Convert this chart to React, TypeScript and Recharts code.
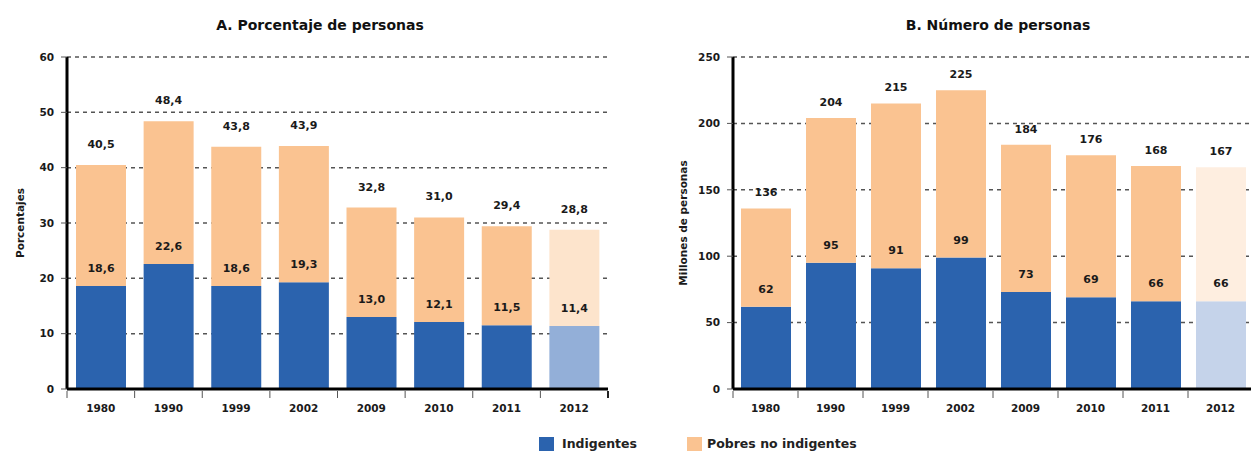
import React from "react";
import { BarChart, Bar, XAxis, YAxis, CartesianGrid, LabelList, Cell } from "recharts";

const years = ["1980", "1990", "1999", "2002", "2009", "2010", "2011", "2012"];
const pctIndigentes = [18.6, 22.6, 18.6, 19.3, 13.0, 12.1, 11.5, 11.4];
const pctPobres = [40.5, 48.4, 43.8, 43.9, 32.8, 31.0, 29.4, 28.8];
const numIndigentes = [62, 95, 91, 99, 73, 69, 66, 66];
const numPobres = [136, 204, 215, 225, 184, 176, 168, 167];
const ticksA = [0, 10, 20, 30, 40, 50, 60];
const ticksB = [0, 50, 100, 150, 200, 250];

const FONT = "'DejaVu Sans', Verdana, sans-serif";
const BLUE = "#2B63AE";
const ORANGE = "#FAC391";

const buildRows = (ind: number[], tot: number[]) =>
  years.map((y, i) => ({ year: y, ind: ind[i], resto: +(tot[i] - ind[i]).toFixed(1), total: tot[i] }));

const dataA = buildRows(pctIndigentes, pctPobres);
const dataB = buildRows(numIndigentes, numPobres);

const comma = (v: any) => Number(v).toFixed(1).replace(".", ",");

const makeXTick = (catW: number, count: number) => (props: any) => {
  const { x, y, payload, index } = props;
  return (
    <g>
      <line x1={x - catW / 2} x2={x - catW / 2} y1={y - 6} y2={y + 1} stroke="#555" strokeWidth={1} />
      {index === count - 1 && (
        <line x1={x + catW / 2} x2={x + catW / 2} y1={y - 6} y2={y + 1} stroke="#222" strokeWidth={2} />
      )}
      <text x={x} y={y + 15} textAnchor="middle" fontFamily={FONT} fontWeight="bold" fontSize={10.5} fill="#1a1a1a">
        {payload.value}
      </text>
    </g>
  );
};

type PanelProps = {
  data: any[];
  left: number;
  width: number;
  marginLeft: number;
  marginRight: number;
  ticks: number[];
  yLabel: string;
  yLabelX: number;
  catW: number;
  light: [string, string];
  fmt?: (v: any) => string;
  topOffset: number;
  innerOffset: number;
};

function Panel(p: PanelProps) {
  const fmt = p.fmt || ((v: any) => String(v));
  const labelStyle = { fontFamily: FONT, fontWeight: "bold", fontSize: 11, fill: "#1a1a1a" };
  return (
    <div style={{ position: "absolute", left: p.left, top: 0 }}>
      <BarChart
        width={p.width}
        height={420}
        data={p.data}
        margin={{ top: 57, right: p.marginRight, left: p.marginLeft, bottom: 6 }}
      >
        <CartesianGrid vertical={false} stroke="#555" strokeDasharray="4 4" strokeWidth={1.5} />
        <XAxis
          dataKey="year"
          height={25}
          axisLine={{ stroke: "#000", strokeWidth: 3 }}
          tickLine={false}
          interval={0}
          tick={makeXTick(p.catW, p.data.length)}
        />
        <YAxis
          width={40}
          domain={[0, p.ticks[p.ticks.length - 1]]}
          ticks={p.ticks}
          interval={0}
          axisLine={{ stroke: "#000", strokeWidth: 3 }}
          tickLine={{ stroke: "#555" }}
          tickSize={6}
          tickMargin={7}
          tick={{ fontFamily: FONT, fontWeight: "bold", fontSize: 10.5, fill: "#1a1a1a" }}
          label={{
            content: () => (
              <text
                x={p.yLabelX}
                y={223}
                transform={`rotate(-90, ${p.yLabelX}, 223)`}
                textAnchor="middle"
                dominantBaseline="central"
                fontFamily={FONT}
                fontWeight="bold"
                fontSize={10.5}
                fill="#1a1a1a"
              >
                {p.yLabel}
              </text>
            ),
          }}
        />
        <Bar dataKey="ind" stackId="a" barSize={50} isAnimationActive={false}>
          {p.data.map((d, i) => (
            <Cell key={`i-${i}`} fill={i === p.data.length - 1 ? p.light[0] : BLUE} />
          ))}
          <LabelList dataKey="ind" position="top" offset={p.innerOffset} formatter={fmt} style={labelStyle} />
        </Bar>
        <Bar dataKey="resto" stackId="a" barSize={50} isAnimationActive={false}>
          {p.data.map((d, i) => (
            <Cell key={`r-${i}`} fill={i === p.data.length - 1 ? p.light[1] : ORANGE} />
          ))}
          <LabelList dataKey="total" position="top" offset={p.topOffset} formatter={fmt} style={labelStyle} />
        </Bar>
      </BarChart>
    </div>
  );
}

const titleStyle: React.CSSProperties = {
  position: "absolute",
  top: 16,
  width: 400,
  textAlign: "center",
  fontFamily: FONT,
  fontWeight: "bold",
  fontSize: 14,
  lineHeight: "18px",
  color: "#111",
};

const legendText: React.CSSProperties = {
  position: "absolute",
  top: 436,
  fontFamily: FONT,
  fontWeight: "bold",
  fontSize: 12.5,
  lineHeight: "15px",
  color: "#222",
};

export default function App() {
  return (
    <div style={{ position: "fixed", left: 0, top: 0, width: 1251, height: 451, overflow: "hidden", background: "#fff" }}>
      <div style={{ ...titleStyle, left: 120 }}>A. Porcentaje de personas</div>
      <div style={{ ...titleStyle, left: 798 }}>B. Número de personas</div>
      <Panel
        data={dataA}
        left={0}
        width={620}
        marginLeft={27}
        marginRight={12}
        ticks={ticksA}
        yLabel="Porcentajes"
        yLabelX={20}
        catW={541 / 8}
        light={["#93AFD8", "#FDE4CC"]}
        fmt={comma}
        topOffset={17}
        innerOffset={14}
      />
      <Panel
        data={dataB}
        left={640}
        width={640}
        marginLeft={53}
        marginRight={27}
        ticks={ticksB}
        yLabel="Millones de personas"
        yLabelX={43}
        catW={520 / 8}
        light={["#C5D3EA", "#FEEEE0"]}
        topOffset={12}
        innerOffset={14}
      />
      <div style={{ position: "absolute", left: 539, top: 437, width: 15, height: 14, background: BLUE }} />
      <div style={{ ...legendText, left: 562 }}>Indigentes</div>
      <div style={{ position: "absolute", left: 687, top: 437, width: 15, height: 14, background: ORANGE }} />
      <div style={{ ...legendText, left: 707 }}>Pobres no indigentes</div>
    </div>
  );
}
